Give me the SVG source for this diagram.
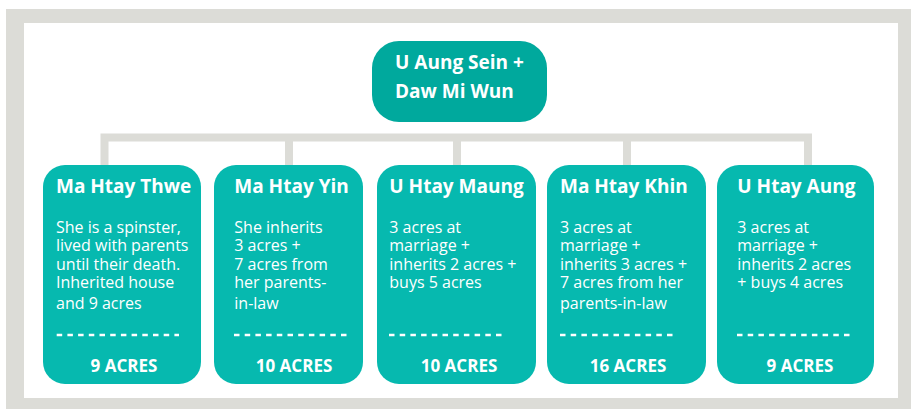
<svg xmlns="http://www.w3.org/2000/svg" width="911" height="409" viewBox="0 0 911 409">
<style>
.frame{fill:#dcdcd7}
.inner{fill:#ffffff}
.conn{fill:none;stroke:#dcdcd7;stroke-width:8}
.root{fill:#00a99d}
.child{fill:#06b9af}
.title{font-family:"Open Sans","Liberation Sans",sans-serif;font-weight:bold;font-size:19px;fill:#ffffff}
.body{font-family:"Open Sans","Liberation Sans",sans-serif;font-weight:normal;font-size:16px;fill:#ffffff}
.acres{font-family:"Open Sans","Liberation Sans",sans-serif;font-weight:bold;font-size:17px;fill:#ffffff;text-anchor:middle}
.sep{stroke:#ffffff;stroke-width:2.4;stroke-dasharray:5.5 5.2}
</style>
<rect class="frame" x="6" y="9" width="905" height="400"/>
<rect class="inner" x="24" y="23" width="874" height="375"/>
<g id="connectors">
<path class="conn" d="M104.5 165 V137.5 H808 V165"/>
<path class="conn" d="M289 137.5 V165 M457 137.5 V165 M627 137.5 V165"/>
</g>
<g id="root">
<rect class="root" x="372" y="41" width="175" height="81" rx="27"/>
<text class="title"><tspan x="395" y="69">U Aung Sein +</tspan><tspan x="395" y="98.3">Daw Mi Wun</tspan></text>
</g>
<g id="ma-htay-thwe">
<rect class="child" x="43" y="165" width="158" height="219" rx="22"/>
<text class="title" x="56" y="193.3">Ma Htay Thwe</text>
<text class="body"><tspan x="56" y="232.5">She is a spinster,</tspan><tspan x="56" y="251">lived with parents</tspan><tspan x="56" y="269.5">until their death.</tspan><tspan x="56" y="288">Inherited house</tspan><tspan x="56" y="309">and 9 acres</tspan></text>
<line class="sep" x1="56.7" y1="335" x2="179" y2="335"/>
<text class="acres" x="124" y="371.7">9 ACRES</text>
</g>
<g id="ma-htay-yin">
<rect class="child" x="214" y="165" width="149" height="219" rx="22"/>
<text class="title" x="234.3" y="193.3">Ma Htay Yin</text>
<text class="body"><tspan x="234.3" y="232.5">She inherits</tspan><tspan x="234.3" y="251">3 acres +</tspan><tspan x="234.3" y="269.5">7 acres from</tspan><tspan x="234.3" y="288">her parents-</tspan><tspan x="234.3" y="309">in-law</tspan></text>
<line class="sep" x1="234" y1="335" x2="348" y2="335"/>
<text class="acres" x="294" y="371.7">10 ACRES</text>
</g>
<g id="u-htay-maung">
<rect class="child" x="377" y="165" width="159" height="219" rx="22"/>
<text class="title" x="389.3" y="193.3">U Htay Maung</text>
<text class="body"><tspan x="389.3" y="232.5">3 acres at</tspan><tspan x="389.3" y="251">marriage +</tspan><tspan x="389.3" y="269.5">inherits 2 acres +</tspan><tspan x="389.3" y="288">buys 5 acres</tspan></text>
<line class="sep" x1="389" y1="335" x2="503" y2="335"/>
<text class="acres" x="459" y="371.7">10 ACRES</text>
</g>
<g id="ma-htay-khin">
<rect class="child" x="547" y="165" width="159" height="219" rx="22"/>
<text class="title" x="560" y="193.3">Ma Htay Khin</text>
<text class="body"><tspan x="560" y="232.5">3 acres at</tspan><tspan x="560" y="251">marriage +</tspan><tspan x="560" y="269.5">inherits 3 acres +</tspan><tspan x="560" y="288">7 acres from her</tspan><tspan x="560" y="309">parents-in-law</tspan></text>
<line class="sep" x1="560" y1="335" x2="674" y2="335"/>
<text class="acres" x="628" y="371.7">16 ACRES</text>
</g>
<g id="u-htay-aung">
<rect class="child" x="717" y="165" width="157" height="219" rx="22"/>
<text class="title" x="737.3" y="193.3">U Htay Aung</text>
<text class="body"><tspan x="737.3" y="232.5">3 acres at</tspan><tspan x="737.3" y="251">marriage +</tspan><tspan x="737.3" y="269.5">inherits 2 acres</tspan><tspan x="737.3" y="288">+ buys 4 acres</tspan></text>
<line class="sep" x1="737" y1="335" x2="852" y2="335"/>
<text class="acres" x="800" y="371.7">9 ACRES</text>
</g>
</svg>
